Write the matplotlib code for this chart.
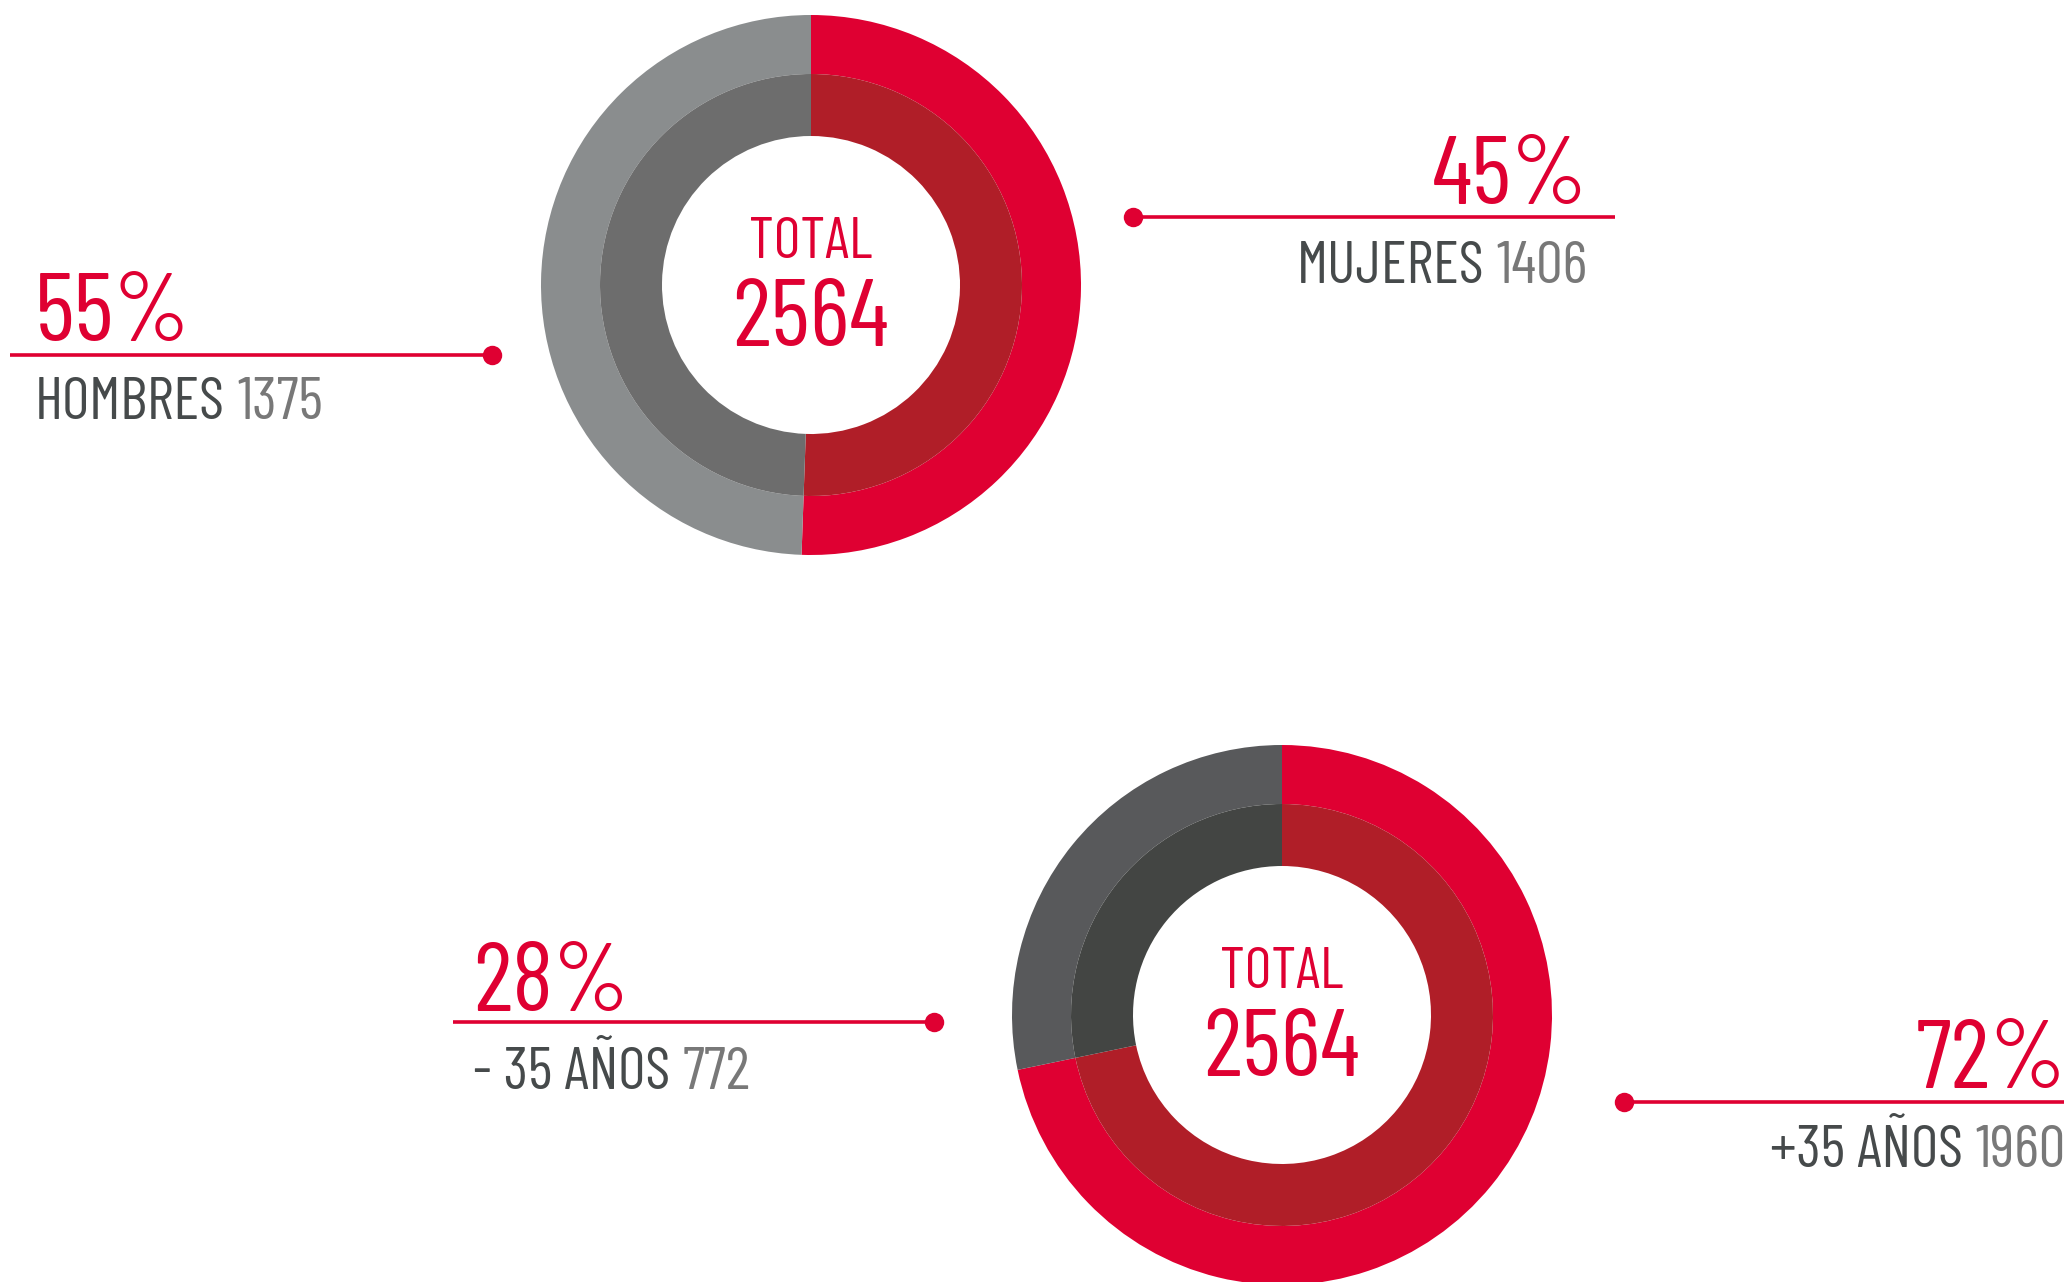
import matplotlib
matplotlib.use("Agg")
import matplotlib.pyplot as plt

# data
total = 2564
gender_labels = ["MUJERES", "HOMBRES"]
gender_values = [1406, 1375]
gender_pct = ["45%", "55%"]
age_labels = ["+35 AÑOS", "- 35 AÑOS"]
age_values = [1960, 772]
age_pct = ["72%", "28%"]

RED = "#DF0032"
RED_IN = "#B01E28"
DARK_TXT = "#464A4B"
NUM_TXT = "#787878"

plt.rcParams["font.family"] = ["Barlow Condensed", "Roboto Condensed", "Pathway Gothic One",
                               "PT Sans Narrow", "DejaVu Sans"]

W, H = 2064, 1282
fig = plt.figure(figsize=(W / 100, H / 100), dpi=100)
ax = fig.add_axes([0, 0, 1, 1])


def yy(y):
    # positions measured from the top of the picture
    return H - y


def donut(cx, cy, values, outer_cols, inner_cols):
    ax.pie(values, colors=outer_cols, radius=270, center=(cx, yy(cy)), startangle=90,
           counterclock=False, wedgeprops=dict(width=59, linewidth=0), frame=True)
    ax.pie(values, colors=inner_cols, radius=211, center=(cx, yy(cy)), startangle=90,
           counterclock=False, wedgeprops=dict(width=62, linewidth=0), frame=True)
    ax.text(cx, yy(cy - 27), "TOTAL", color=RED, fontsize=42, ha="center", va="baseline")
    ax.text(cx, yy(cy + 61), str(total), color=RED, fontsize=69, ha="center", va="baseline")


def callout(x0, x1, y, dot_x):
    ax.plot([x0, x1], [yy(y), yy(y)], color=RED, lw=2.6, solid_capstyle="butt")
    ax.plot([dot_x], [yy(y)], "o", color=RED, ms=14, mec="none")


def label_left(x, y_pct, y_lab, pct, name, value):
    ax.text(x, yy(y_pct), pct, color=RED, fontsize=70, ha="left", va="baseline")
    t = ax.text(x, yy(y_lab), name, color=DARK_TXT, fontsize=43, ha="left", va="baseline")
    ax.annotate(str(value), xy=(1, 0), xycoords=t, xytext=(9, 0), textcoords="offset points",
                color=NUM_TXT, fontsize=43, ha="left", va="bottom")


def label_right(x, y_pct, y_lab, pct, name, value):
    ax.text(x, yy(y_pct), pct, color=RED, fontsize=70, ha="right", va="baseline")
    t = ax.text(x, yy(y_lab), str(value), color=NUM_TXT, fontsize=43, ha="right", va="baseline")
    ax.annotate(name, xy=(0, 0), xycoords=t, xytext=(-9, 0), textcoords="offset points",
                color=DARK_TXT, fontsize=43, ha="right", va="bottom")


# gender donut
donut(811, 285, gender_values, [RED, "#8A8D8E"], [RED_IN, "#6D6D6D"])
callout(1133, 1615, 217, 1133)
label_right(1588, 204, 283, gender_pct[0], gender_labels[0], gender_values[0])
callout(10, 492, 355, 492)
label_left(35, 341, 419, gender_pct[1], gender_labels[1], gender_values[1])

# age donut
donut(1282, 1015, age_values, [RED, "#58595B"], [RED_IN, "#434543"])
callout(1624, W, 1102, 1624)
label_right(2066, 1088, 1167, age_pct[0], age_labels[0], age_values[0])
callout(453, 934, 1022, 934)
label_left(473, 1011, 1089, age_pct[1], age_labels[1], age_values[1])

ax.set_xlim(0, W)
ax.set_ylim(0, H)
ax.set_aspect("auto")
ax.axis("off")
fig.savefig("out.png", dpi=100)
